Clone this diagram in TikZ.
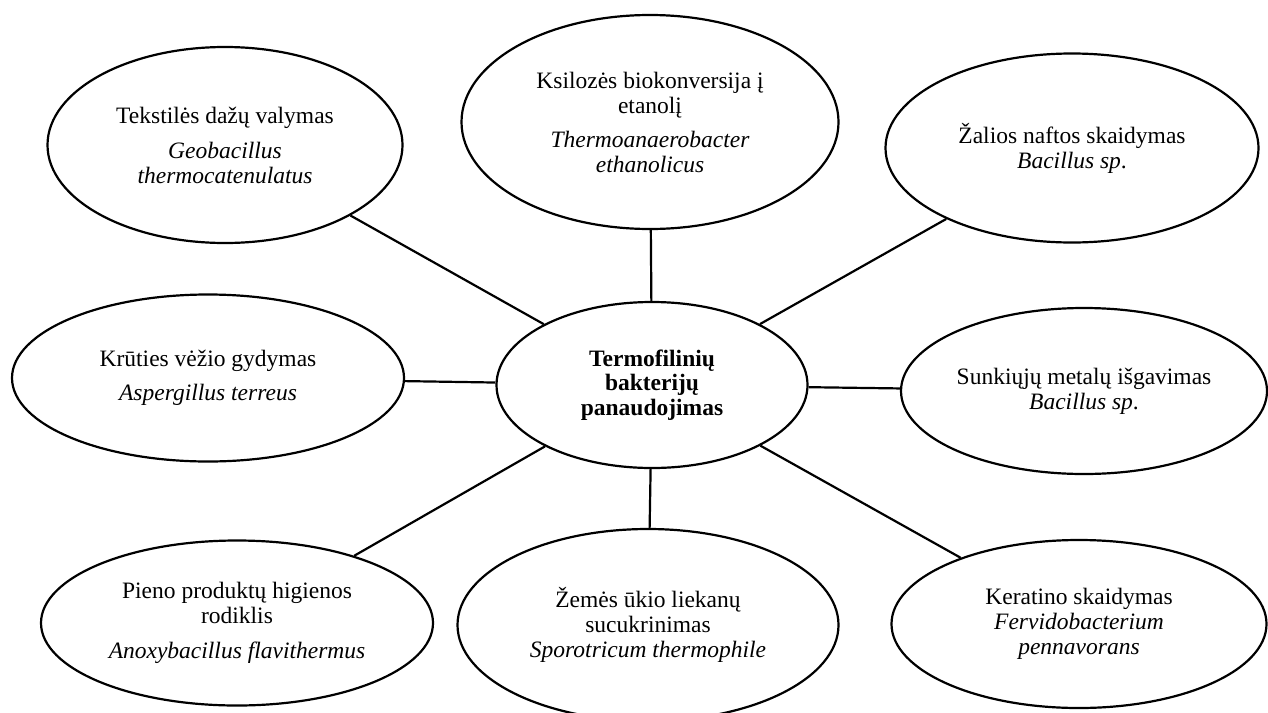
\documentclass[tikz,border=0pt]{standalone}
\usepackage{fontspec}
\setmainfont{Liberation Serif}
\usetikzlibrary{shapes.geometric}
\tikzset{
  bubble/.style 2 args={ellipse, draw=black, line width=2.2pt, fill=white,
    minimum width=#1, minimum height=#2, inner sep=0pt, align=center,
    font=\fontsize{23.5}{25}\selectfont},
  link/.style={draw=black, line width=2.2pt}
}
\begin{document}
\begin{tikzpicture}[x=1pt, y=-1pt]
\useasboundingbox (0,0) rectangle (1268,712);
\node[bubble={355pt}{196pt}] (tl) at (225,145)
  {Tekstilės dažų valymas\\[10pt]\textit{Geobacillus}\\\textit{thermocatenulatus}};
\node[bubble={377pt}{214pt}] (ks) at (650,122)
  {Ksilozės biokonversija į\\etanolį\\[9pt]\textit{Thermoanaerobacter}\\\textit{ethanolicus}};
\node[bubble={373pt}{189pt}] (za) at (1072,148)
  {Žalios naftos skaidymas\\\textit{Bacillus sp}.};
\node[bubble={392pt}{167pt}] (kr) at (208,378)
  {Krūties vėžio gydymas\\[9pt]\textit{Aspergillus terreus}};
\node[bubble={311pt}{166pt}, font=\fontsize{23.5}{24.5}\selectfont\bfseries] (c) at (652,385)
  {Termofilinių\\bakterijų\\panaudojimas};
\node[bubble={366pt}{166pt}] (su) at (1084,391)
  {Sunkiųjų metalų išgavimas\\\textit{Bacillus sp}.};
\node[bubble={392pt}{165pt}] (pi) at (237,623)
  {Pieno produktų higienos\\rodiklis\\[10pt]\textit{Anoxybacillus flavithermus}};
\node[bubble={381pt}{192pt}] (ze) at (648,625)
  {Žemės ūkio liekanų\\sucukrinimas\\\textit{Sporotricum thermophile}};
\node[bubble={375pt}{168pt}] (ke) at (1079,624)
  {Keratino skaidymas\\\textit{Fervidobacterium}\\\textit{pennavorans}};
\foreach \n in {tl,ks,za,kr,su,pi,ze,ke}
  \draw[link] (c) -- (\n);
\end{tikzpicture}
\end{document}
